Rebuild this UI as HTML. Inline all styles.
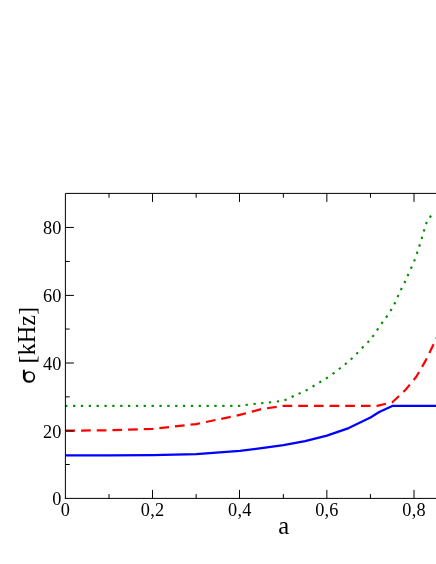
<!DOCTYPE html>
<html><head><meta charset="utf-8"><title>chart</title>
<style>
html,body{margin:0;padding:0;background:#fff;}
body{width:436px;height:564px;overflow:hidden;position:relative;font-family:"Liberation Serif",serif;}
svg{position:absolute;left:0;top:0;display:block;will-change:transform;}
text{font-family:"Liberation Serif",serif;fill:#000;}
</style></head><body>
<svg width="436" height="564" viewBox="0 0 436 564">
<rect width="436" height="564" fill="#fff"/>

<path d="M65.4,455.4 L109.0,455.4 L152.6,455.1 L196.2,454.1 L239.8,450.8 L261.6,448.1 L283.4,445.1 L305.1,441.1 L326.9,435.6 L348.7,428.1 L370.5,417.5 L379.2,412.0 L392.3,405.9 L457.7,405.9" fill="none" stroke="#0000ff" stroke-width="2.2" stroke-linejoin="round"/>
<path d="M65.4,430.7 L109.0,430.3 L152.6,428.8 L196.2,424.1 L239.8,414.9 L261.6,409.0 L283.4,405.9 L377.1,405.9 L392.3,402.2 L405.4,390.0 L416.3,376.8 L425.5,360.9 L434.4,342.6 L441.1,328.4" fill="none" stroke="#ff0000" stroke-width="2.2" stroke-dasharray="9.7 5.97" stroke-linejoin="round"/>
<g fill="#008b00">
<rect x="-1.15" y="-1.05" width="2.3" height="2.1" transform="translate(66.3,405.9) rotate(0)"/>
<rect x="-1.15" y="-1.05" width="2.3" height="2.1" transform="translate(74.2,405.9) rotate(0)"/>
<rect x="-1.15" y="-1.05" width="2.3" height="2.1" transform="translate(82.0,405.9) rotate(0)"/>
<rect x="-1.15" y="-1.05" width="2.3" height="2.1" transform="translate(89.9,405.9) rotate(0)"/>
<rect x="-1.15" y="-1.05" width="2.3" height="2.1" transform="translate(97.7,405.9) rotate(0)"/>
<rect x="-1.15" y="-1.05" width="2.3" height="2.1" transform="translate(105.6,405.9) rotate(0)"/>
<rect x="-1.15" y="-1.05" width="2.3" height="2.1" transform="translate(113.4,405.9) rotate(0)"/>
<rect x="-1.15" y="-1.05" width="2.3" height="2.1" transform="translate(121.3,405.9) rotate(0)"/>
<rect x="-1.15" y="-1.05" width="2.3" height="2.1" transform="translate(129.1,405.9) rotate(0)"/>
<rect x="-1.15" y="-1.05" width="2.3" height="2.1" transform="translate(137.0,405.9) rotate(0)"/>
<rect x="-1.15" y="-1.05" width="2.3" height="2.1" transform="translate(144.8,405.9) rotate(0)"/>
<rect x="-1.15" y="-1.05" width="2.3" height="2.1" transform="translate(152.7,405.9) rotate(0)"/>
<rect x="-1.15" y="-1.05" width="2.3" height="2.1" transform="translate(160.6,405.9) rotate(0)"/>
<rect x="-1.15" y="-1.05" width="2.3" height="2.1" transform="translate(168.4,405.9) rotate(0)"/>
<rect x="-1.15" y="-1.05" width="2.3" height="2.1" transform="translate(176.3,405.9) rotate(0)"/>
<rect x="-1.15" y="-1.05" width="2.3" height="2.1" transform="translate(184.1,405.9) rotate(0)"/>
<rect x="-1.15" y="-1.05" width="2.3" height="2.1" transform="translate(192.0,405.9) rotate(0)"/>
<rect x="-1.15" y="-1.05" width="2.3" height="2.1" transform="translate(199.8,405.9) rotate(0)"/>
<rect x="-1.15" y="-1.05" width="2.3" height="2.1" transform="translate(207.7,405.9) rotate(0)"/>
<rect x="-1.15" y="-1.05" width="2.3" height="2.1" transform="translate(215.5,405.9) rotate(0)"/>
<rect x="-1.15" y="-1.05" width="2.3" height="2.1" transform="translate(223.4,405.9) rotate(0)"/>
<rect x="-1.15" y="-1.05" width="2.3" height="2.1" transform="translate(231.3,405.9) rotate(0)"/>
<rect x="-1.15" y="-1.05" width="2.3" height="2.1" transform="translate(239.1,405.9) rotate(-4)"/>
<rect x="-1.15" y="-1.05" width="2.3" height="2.1" transform="translate(246.7,404.9) rotate(-7)"/>
<rect x="-1.15" y="-1.05" width="2.3" height="2.1" transform="translate(254.6,403.9) rotate(-6)"/>
<rect x="-1.15" y="-1.05" width="2.3" height="2.1" transform="translate(262.3,403.2) rotate(-6)"/>
<rect x="-1.15" y="-1.05" width="2.3" height="2.1" transform="translate(270.0,402.4) rotate(-7)"/>
<rect x="-1.15" y="-1.05" width="2.3" height="2.1" transform="translate(278.0,401.4) rotate(-9)"/>
<rect x="-1.15" y="-1.05" width="2.3" height="2.1" transform="translate(285.5,399.9) rotate(-18)"/>
<rect x="-1.15" y="-1.05" width="2.3" height="2.1" transform="translate(292.7,396.5) rotate(-25)"/>
<rect x="-1.15" y="-1.05" width="2.3" height="2.1" transform="translate(299.6,393.4) rotate(-25)"/>
<rect x="-1.15" y="-1.05" width="2.3" height="2.1" transform="translate(306.7,390.1) rotate(-28)"/>
<rect x="-1.15" y="-1.05" width="2.3" height="2.1" transform="translate(313.5,386.1) rotate(-31)"/>
<rect x="-1.15" y="-1.05" width="2.3" height="2.1" transform="translate(320.3,381.9) rotate(-31)"/>
<rect x="-1.15" y="-1.05" width="2.3" height="2.1" transform="translate(326.9,377.9) rotate(-33)"/>
<rect x="-1.15" y="-1.05" width="2.3" height="2.1" transform="translate(333.5,373.3) rotate(-36)"/>
<rect x="-1.15" y="-1.05" width="2.3" height="2.1" transform="translate(339.8,368.5) rotate(-38)"/>
<rect x="-1.15" y="-1.05" width="2.3" height="2.1" transform="translate(345.8,363.8) rotate(-40)"/>
<rect x="-1.15" y="-1.05" width="2.3" height="2.1" transform="translate(351.6,358.7) rotate(-43)"/>
<rect x="-1.15" y="-1.05" width="2.3" height="2.1" transform="translate(357.2,353.2) rotate(-46)"/>
<rect x="-1.15" y="-1.05" width="2.3" height="2.1" transform="translate(362.7,347.4) rotate(-46)"/>
<rect x="-1.15" y="-1.05" width="2.3" height="2.1" transform="translate(368.3,341.8) rotate(-48)"/>
<rect x="-1.15" y="-1.05" width="2.3" height="2.1" transform="translate(373.1,336.0) rotate(-53)"/>
<rect x="-1.15" y="-1.05" width="2.3" height="2.1" transform="translate(377.6,329.4) rotate(-56)"/>
<rect x="-1.15" y="-1.05" width="2.3" height="2.1" transform="translate(382.1,322.9) rotate(-55)"/>
<rect x="-1.15" y="-1.05" width="2.3" height="2.1" transform="translate(386.7,316.6) rotate(-55)"/>
<rect x="-1.15" y="-1.05" width="2.3" height="2.1" transform="translate(391.0,310.0) rotate(-59)"/>
<rect x="-1.15" y="-1.05" width="2.3" height="2.1" transform="translate(394.8,303.2) rotate(-63)"/>
<rect x="-1.15" y="-1.05" width="2.3" height="2.1" transform="translate(398.0,296.1) rotate(-65)"/>
<rect x="-1.15" y="-1.05" width="2.3" height="2.1" transform="translate(401.3,289.1) rotate(-64)"/>
<rect x="-1.15" y="-1.05" width="2.3" height="2.1" transform="translate(404.9,282.0) rotate(-65)"/>
<rect x="-1.15" y="-1.05" width="2.3" height="2.1" transform="translate(408.0,275.0) rotate(-66)"/>
<rect x="-1.15" y="-1.05" width="2.3" height="2.1" transform="translate(411.3,267.7) rotate(-66)"/>
<rect x="-1.15" y="-1.05" width="2.3" height="2.1" transform="translate(414.5,260.4) rotate(-69)"/>
<rect x="-1.15" y="-1.05" width="2.3" height="2.1" transform="translate(417.1,252.8) rotate(-71)"/>
<rect x="-1.15" y="-1.05" width="2.3" height="2.1" transform="translate(419.6,245.5) rotate(-72)"/>
<rect x="-1.15" y="-1.05" width="2.3" height="2.1" transform="translate(421.9,237.9) rotate(-73)"/>
<rect x="-1.15" y="-1.05" width="2.3" height="2.1" transform="translate(424.1,230.4) rotate(-73)"/>
<rect x="-1.15" y="-1.05" width="2.3" height="2.1" transform="translate(426.4,223.0) rotate(-65)"/>
<rect x="-1.15" y="-1.05" width="2.3" height="2.1" transform="translate(430.4,216.6) rotate(-58)"/>
</g>
<g stroke="#000" stroke-width="1" fill="none">
<path d="M65.4,498.9 V193.4 H440"/>
<path d="M64.85,498.4 H440"/>
<path d="M109.00,498.4 v-4.3 M109.00,193.4 v4.3"/>
<path d="M152.50,498.4 v-8.5 M152.50,193.4 v8.5"/>
<path d="M196.15,498.4 v-4.3 M196.15,193.4 v4.3"/>
<path d="M239.50,498.4 v-8.5 M239.50,193.4 v8.5"/>
<path d="M283.35,498.4 v-4.3 M283.35,193.4 v4.3"/>
<path d="M326.85,498.4 v-8.5 M326.85,193.4 v8.5"/>
<path d="M370.45,498.4 v-4.3 M370.45,193.4 v4.3"/>
<path d="M414.00,498.4 v-8.5 M414.00,193.4 v8.5"/>
<path d="M457.70,498.4 v-4.3 M457.70,193.4 v4.3"/>
<path d="M65.4,464.50 h4.3"/>
<path d="M65.4,431.00 h8.5"/>
<path d="M65.4,396.85 h4.3"/>
<path d="M65.4,363.00 h8.5"/>
<path d="M65.4,329.05 h4.3"/>
<path d="M65.4,295.40 h8.5"/>
<path d="M65.4,261.45 h4.3"/>
<path d="M65.4,227.45 h8.5"/>
</g>
<g font-size="18.3" text-anchor="end" letter-spacing="0.3">
<text x="61.8" y="505.30">0</text>
<text x="61.8" y="437.50">20</text>
<text x="61.8" y="369.50">40</text>
<text x="61.8" y="301.90">60</text>
<text x="61.8" y="233.95">80</text>
</g>
<g font-size="18.3" text-anchor="middle" letter-spacing="0.2">
<text x="65.4" y="515.7">0</text>
<text x="152.6" y="515.7">0,2</text>
<text x="239.8" y="515.7">0,4</text>
<text x="326.9" y="515.7">0,6</text>
<text x="414.1" y="515.7">0,8</text>
</g>
<text x="283.6" y="533.6" font-size="24.6" text-anchor="middle">a</text>
<g font-size="24.2" text-anchor="start">
<text transform="translate(34.6,363.40) rotate(-90) scale(1,0.96)">[</text>
<text transform="translate(35.1,355.34) rotate(-90)">kHz</text>
<text transform="translate(34.6,315.02) rotate(-90) scale(1,0.96)">]</text>
</g>
<path fill="#000" fill-rule="evenodd" d="M22.95,377.0 a6.1,5.85 0 1,0 12.2,0 a6.1,5.85 0 1,0 -12.2,0 Z M25.45,376.65 a4.0,3.9 0 1,1 8.0,0 a4.0,3.9 0 1,1 -8.0,0 Z"/>
<path fill="#000" d="M22.9,369.7 H24.9 V377.5 H22.9 Z"/>
</svg></body></html>
